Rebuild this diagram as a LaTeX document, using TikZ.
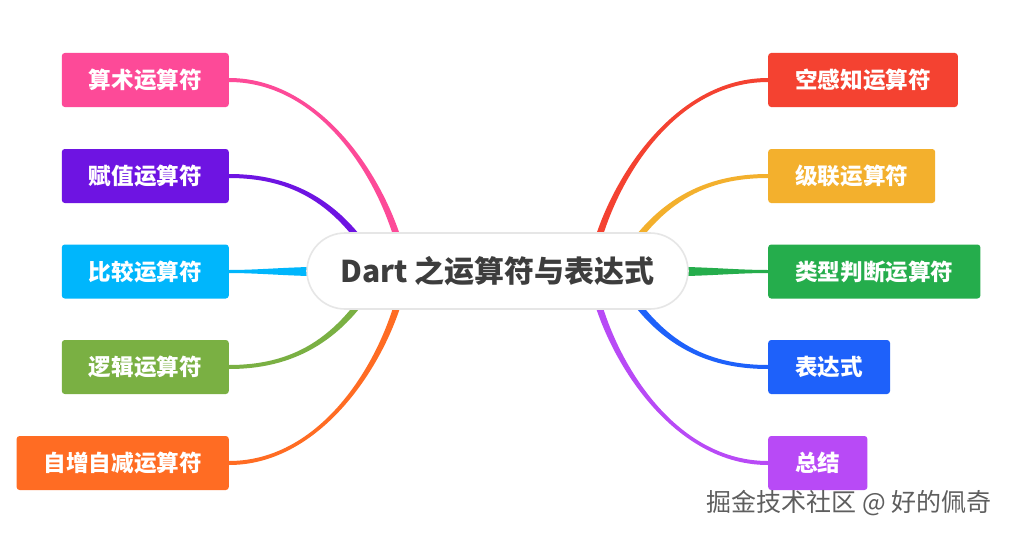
\documentclass[tikz,border=0pt]{standalone}
\usepackage{fontspec}
\setmainfont{Noto Sans CJK SC}
\usetikzlibrary{calc,backgrounds}
\definecolor{cPink}{HTML}{FD4A98}
\definecolor{cViolet}{HTML}{6E14E2}
\definecolor{cCyan}{HTML}{00B6FC}
\definecolor{cOlive}{HTML}{7AB043}
\definecolor{cOrange}{HTML}{FF6C23}
\definecolor{cRed}{HTML}{F44231}
\definecolor{cAmber}{HTML}{F3B02D}
\definecolor{cGreen}{HTML}{25AD4C}
\definecolor{cBlue}{HTML}{1E61FA}
\definecolor{cPurple}{HTML}{B84AF6}
\definecolor{cRootText}{HTML}{3D3D3D}
\definecolor{cRootLine}{HTML}{E6E6E6}
\definecolor{cMark}{HTML}{5E5E5E}
% tapered branch: #1 colour, #2 start, #3 control 1, #4 control 2, #5 end,
% #6 side angle, #7 half width at start, #8 half width at end
\newcommand\branch[8]{%
  \coordinate (tA) at ($(#5)!#8!#6:(#4)$);
  \coordinate (tB) at ($(#5)!#8!#6+180:(#4)$);
  \fill[#1] ($(#2)+(0,-#7)$) .. controls ($(#3)+(0,-#7)$) and ($(#4)+(tA)-(#5)$) .. (tA)
     -- (tB) .. controls ($(#4)+(tB)-(#5)$) and ($(#3)+(0,#7)$) .. ($(#2)+(0,#7)$) -- cycle;
}
\tikzset{
  box/.style={rounded corners=3pt, text=white, font=\bfseries\fontsize{22.6}{26}\selectfont,
    minimum height=54pt, inner xsep=27pt, inner ysep=0pt},
  lbox/.style={box, anchor=east},
  rbox/.style={box, anchor=west},
  root/.style={fill=white, draw=cRootLine, line width=1.6pt, rounded corners=38pt,
    minimum width=381pt, minimum height=76pt, text=cRootText,
    font=\bfseries\fontsize{30}{34}\selectfont},
  wmark/.style={text=cMark, font=\fontsize{25}{29}\selectfont, anchor=east}
}
\begin{document}
\begin{tikzpicture}[x=1pt, y=-1pt]
\useasboundingbox (0,0) rectangle (1011,535);
\begin{scope}[on background layer]
  \fill[white] (0,0) rectangle (1011,535);
\end{scope}

% root
\node[root] (root) at (497.5,271) {Dart 之运算符与表达式};

% left boxes
\node[lbox, fill=cPink]   (b1) at (229,80)    {算术运算符};
\node[lbox, fill=cViolet] (b2) at (229,176)   {赋值运算符};
\node[lbox, fill=cCyan]   (b3) at (229,271.5) {比较运算符};
\node[lbox, fill=cOlive]  (b4) at (229,367)   {逻辑运算符};
\node[lbox, fill=cOrange] (b5) at (229,463)   {自增自减运算符};

% right boxes
\node[rbox, fill=cRed]    (r1) at (768,80)    {空感知运算符};
\node[rbox, fill=cAmber]  (r2) at (768,176)   {级联运算符};
\node[rbox, fill=cGreen]  (r3) at (768,271.5) {类型判断运算符};
\node[rbox, fill=cBlue]   (r4) at (768,367)   {表达式};
\node[rbox, fill=cPurple] (r5) at (768,463)   {总结};

% watermark
\node[wmark] (wm) at (995,503) {掘金技术社区 @ 好的佩奇};

% branch end points (under the root node)
\coordinate (e1) at (405,271);
\coordinate (e2) at (380,271);
\coordinate (e3) at (330,271.5);
\coordinate (e4) at (380,272);
\coordinate (e5) at (405,272);
\coordinate (f1) at (591,271);
\coordinate (f2) at (616,271);
\coordinate (f3) at (665,271.5);
\coordinate (f4) at (616,272);
\coordinate (f5) at (591,272);

\begin{scope}[on background layer]
  \branch{cPink}{b1.east}{330,80}{395,200}{e1}{-90}{2}{3.6pt}
  \branch{cViolet}{b2.east}{290,176}{340,200}{e2}{-90}{2}{3.4pt}
  \branch{cCyan}{b3.east}{260,271.5}{290,271.5}{e3}{-90}{1.5}{4.8pt}
  \branch{cOlive}{b4.east}{290,367}{340,343}{e4}{-90}{2}{3.4pt}
  \branch{cOrange}{b5.east}{330,463}{395,343}{e5}{-90}{2}{3.6pt}
  \branch{cRed}{r1.west}{666,80}{601,200}{f1}{90}{2}{3.6pt}
  \branch{cAmber}{r2.west}{706,176}{656,200}{f2}{90}{2}{3.4pt}
  \branch{cGreen}{r3.west}{736,271.5}{706,271.5}{f3}{90}{1.5}{4.8pt}
  \branch{cBlue}{r4.west}{706,367}{656,343}{f4}{90}{2}{3.4pt}
  \branch{cPurple}{r5.west}{666,463}{601,343}{f5}{90}{2}{3.6pt}
\end{scope}
\end{tikzpicture}
\end{document}
